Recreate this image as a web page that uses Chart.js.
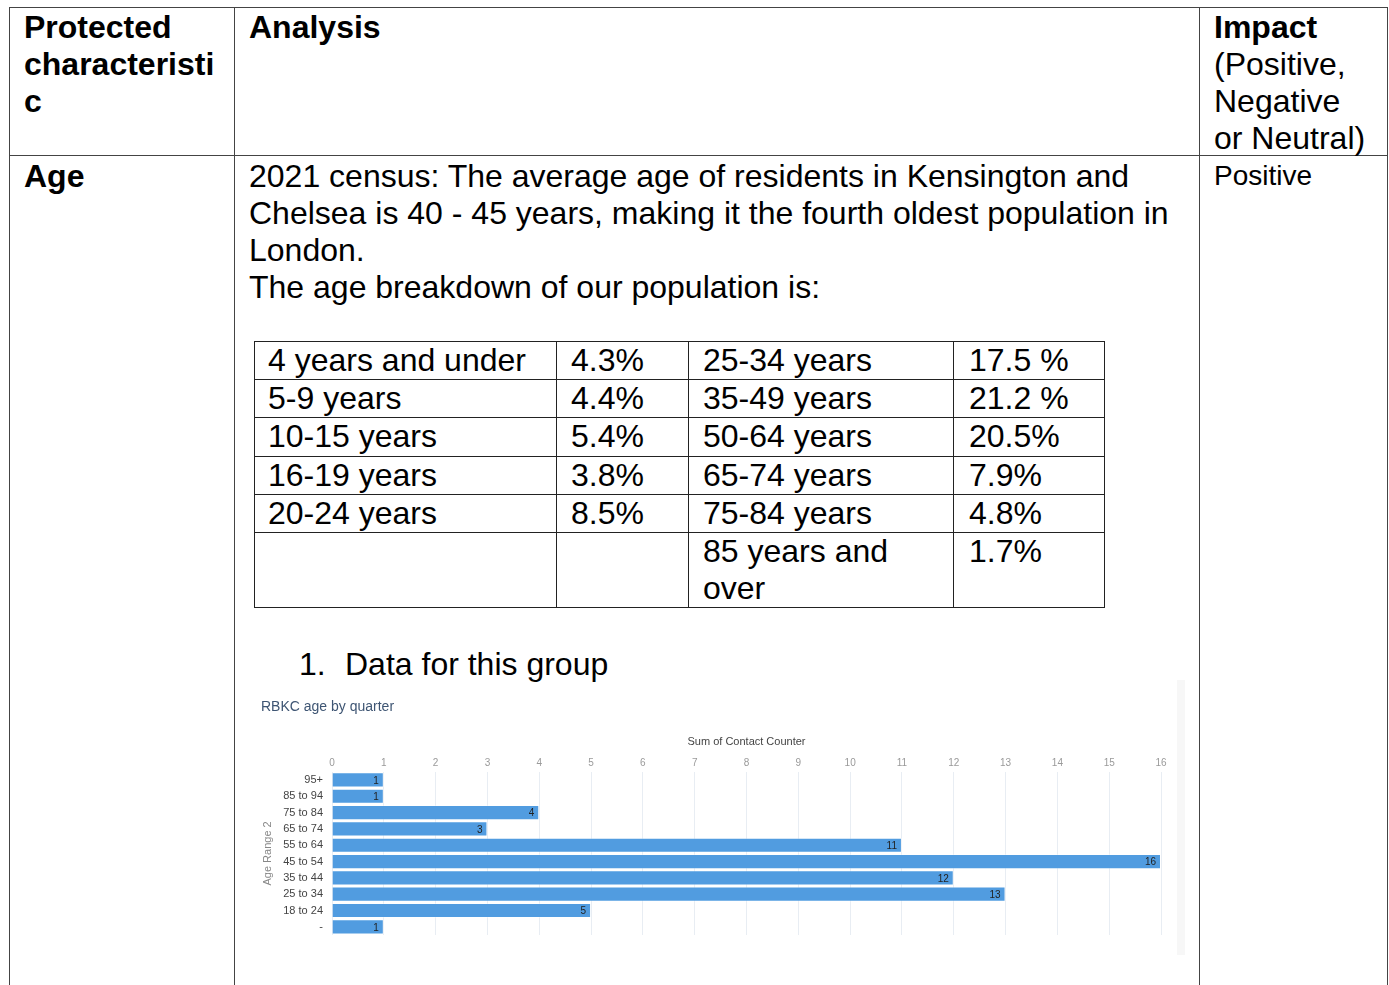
<!DOCTYPE html>
<html>
<head>
<meta charset="utf-8">
<script src="https://cdn.jsdelivr.net/npm/chart.js@4"></script>
<style>
  html, body { margin: 0; padding: 0; background: #fff; }
  body { width: 1389px; height: 985px; position: relative; overflow: hidden;
         font-family: "Liberation Sans", Arial, sans-serif; color: #000; }
  .t { position: absolute; font-size: 32px; line-height: 37px; white-space: nowrap; }
  .b { font-weight: bold; }
  .hl { position: absolute; height: 1px; background: #444; }
  .vl { position: absolute; width: 1px; background: #444; }
  .ihl { position: absolute; height: 1px; background: #222; }
  .ivl { position: absolute; width: 1px; background: #222; }
  #chartBox { position: absolute; left: 255px; top: 680px; width: 930px; height: 275px; }
  #chartShade { position: absolute; left: 1177px; top: 680px; width: 8px; height: 275px; background: #f7f7f7; }
</style>
</head>
<body>
<!-- outer table lines -->
<div class="hl" style="left:9px; top:7px; width:1379px;"></div>
<div class="hl" style="left:9px; top:155px; width:1379px;"></div>
<div class="vl" style="left:9px; top:7px; height:978px;"></div>
<div class="vl" style="left:234px; top:7px; height:978px;"></div>
<div class="vl" style="left:1199px; top:7px; height:978px;"></div>
<div class="vl" style="left:1387px; top:7px; height:978px;"></div>

<!-- header row -->
<div class="t b" style="left:24px; top:9px;">Protected<br>characteristi<br>c</div>
<div class="t b" style="left:249px; top:9px;">Analysis</div>
<div class="t" style="left:1214px; top:9px;"><b>Impact</b><br>(Positive,<br>Negative<br>or Neutral)</div>

<!-- second row -->
<div class="t b" style="left:24px; top:158px;">Age</div>
<div class="t" style="left:249px; top:158px;">2021 census: The average age of residents in Kensington and<br>Chelsea is 40 - 45 years, making it the fourth oldest population in<br>London.<br>The age breakdown of our population is:</div>
<div class="t" style="left:1214px; top:157px; font-size:28px;">Positive</div>

<!-- inner table -->
<div class="ihl" style="left:254px; top:341px; width:851px;"></div>
<div class="ihl" style="left:254px; top:379px; width:851px;"></div>
<div class="ihl" style="left:254px; top:417px; width:851px;"></div>
<div class="ihl" style="left:254px; top:456px; width:851px;"></div>
<div class="ihl" style="left:254px; top:494px; width:851px;"></div>
<div class="ihl" style="left:254px; top:532px; width:851px;"></div>
<div class="ihl" style="left:254px; top:607px; width:851px;"></div>
<div class="ivl" style="left:254px; top:341px; height:267px;"></div>
<div class="ivl" style="left:556px; top:341px; height:267px;"></div>
<div class="ivl" style="left:688px; top:341px; height:267px;"></div>
<div class="ivl" style="left:953px; top:341px; height:267px;"></div>
<div class="ivl" style="left:1104px; top:341px; height:267px;"></div>

<div class="t" style="left:268px; top:342px;">4 years and under</div>
<div class="t" style="left:571px; top:342px;">4.3%</div>
<div class="t" style="left:703px; top:342px;">25-34 years</div>
<div class="t" style="left:969px; top:342px;">17.5 %</div>

<div class="t" style="left:268px; top:380px;">5-9 years</div>
<div class="t" style="left:571px; top:380px;">4.4%</div>
<div class="t" style="left:703px; top:380px;">35-49 years</div>
<div class="t" style="left:969px; top:380px;">21.2 %</div>

<div class="t" style="left:268px; top:418px;">10-15 years</div>
<div class="t" style="left:571px; top:418px;">5.4%</div>
<div class="t" style="left:703px; top:418px;">50-64 years</div>
<div class="t" style="left:969px; top:418px;">20.5%</div>

<div class="t" style="left:268px; top:457px;">16-19 years</div>
<div class="t" style="left:571px; top:457px;">3.8%</div>
<div class="t" style="left:703px; top:457px;">65-74 years</div>
<div class="t" style="left:969px; top:457px;">7.9%</div>

<div class="t" style="left:268px; top:495px;">20-24 years</div>
<div class="t" style="left:571px; top:495px;">8.5%</div>
<div class="t" style="left:703px; top:495px;">75-84 years</div>
<div class="t" style="left:969px; top:495px;">4.8%</div>

<div class="t" style="left:703px; top:533px;">85 years and<br>over</div>
<div class="t" style="left:969px; top:533px;">1.7%</div>

<!-- list item -->
<div class="t" style="left:299px; top:646px;">1.</div>
<div class="t" style="left:345px; top:646px;">Data for this group</div>

<div id="chartShade"></div>
<div id="chartBox"><canvas id="ageChart"></canvas></div>

<script>
// Données du graphique
const ageRanges = ['95+', '85 to 94', '75 to 84', '65 to 74', '55 to 64', '45 to 54', '35 to 44', '25 to 34', '18 to 24', '-'];
const contactCounts = [1, 1, 4, 3, 11, 16, 12, 13, 5, 1];
const xTicks = [0, 1, 2, 3, 4, 5, 6, 7, 8, 9, 10, 11, 12, 13, 14, 15, 16];

// Étiquettes de valeur à l'intérieur des barres
const barValueLabels = {
    id: 'barValueLabels',
    afterDatasetsDraw(chart) {
        const ctx = chart.ctx;
        const meta = chart.getDatasetMeta(0);
        ctx.save();
        ctx.font = '10px "Liberation Sans", Arial, sans-serif';
        ctx.fillStyle = '#222';
        ctx.textAlign = 'right';
        ctx.textBaseline = 'middle';
        meta.data.forEach((bar, i) => {
            ctx.fillText(String(contactCounts[i]), bar.x - 5, bar.y + 1);
        });
        ctx.restore();
    }
};

const ctx = document.getElementById('ageChart').getContext('2d');
new Chart(ctx, {
    type: 'bar',
    data: {
        labels: ageRanges,
        datasets: [{
            label: 'Sum of Contact Counter',
            data: contactCounts,
            backgroundColor: '#519ce0',
            borderColor: 'rgba(255,255,255,0.35)',
            borderWidth: 1,
            barPercentage: 0.93,
            categoryPercentage: 1.0
        }]
    },
    options: {
        indexAxis: 'y',
        responsive: true,
        maintainAspectRatio: false,
        animation: false,
        layout: { padding: { left: 6, right: 24, top: 0, bottom: 20 } },
        plugins: {
            legend: { display: false },
            tooltip: { enabled: false },
            title: {
                display: true,
                text: 'RBKC age by quarter',
                align: 'start',
                color: '#3e5573',
                font: { family: '"Liberation Sans", Arial, sans-serif', size: 14, weight: 'normal' },
                padding: { top: 19, bottom: 0 }
            }
        },
        scales: {
            x: {
                position: 'top',
                min: 0,
                max: 16,
                afterBuildTicks: (scale) => { scale.ticks = xTicks.map(v => ({ value: v })); },
                afterFit: (scale) => { scale.height = 56; },
                border: { display: false },
                grid: { color: '#e8edf3', drawTicks: false },
                ticks: {
                    color: '#9a9a9a',
                    padding: 3,
                    font: { family: '"Liberation Sans", Arial, sans-serif', size: 10 }
                },
                title: {
                    display: true,
                    text: 'Sum of Contact Counter',
                    color: '#444',
                    font: { family: '"Liberation Sans", Arial, sans-serif', size: 11 },
                    padding: { top: 20, bottom: 0 }
                }
            },
            y: {
                afterFit: (scale) => { scale.width = 71; },
                border: { display: false },
                grid: { display: false, drawTicks: false },
                ticks: {
                    color: '#444',
                    padding: 9,
                    font: { family: '"Liberation Sans", Arial, sans-serif', size: 11 }
                },
                title: {
                    display: true,
                    text: 'Age Range 2',
                    color: '#888',
                    font: { family: '"Liberation Sans", Arial, sans-serif', size: 11 },
                    padding: 0
                }
            }
        }
    },
    plugins: [barValueLabels]
});
</script>
</body>
</html>
